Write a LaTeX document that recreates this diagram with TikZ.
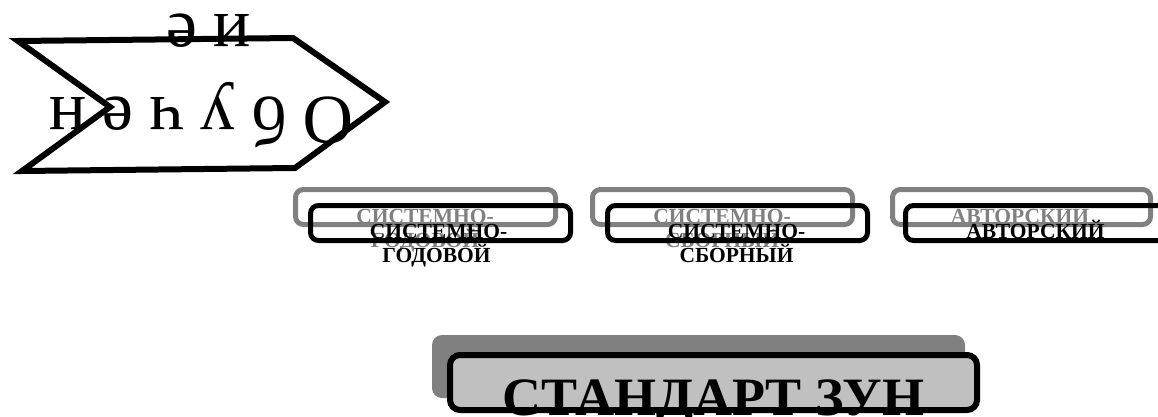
\documentclass[tikz,border=0pt]{standalone}
\usepackage{fontspec}
\setmainfont{Liberation Serif}
\definecolor{shadowgray}{HTML}{808080}
\definecolor{panelgray}{HTML}{C0C0C0}
\begin{document}
\begin{tikzpicture}[x=1pt,y=-1pt,
  shadowbox/.style={draw=shadowgray,line width=5pt,rounded corners=8pt},
  mainbox/.style={draw=black,line width=5pt,rounded corners=8pt},
  smalltxt/.style={font=\bfseries\fontsize{21.5}{24}\selectfont,inner sep=0pt,anchor=base},
  shadowtxt/.style={smalltxt,text=shadowgray},
  maintxt/.style={smalltxt,text=black},
  bigtxt/.style={font=\fontsize{70}{84}\selectfont,inner sep=0pt,anchor=base,rotate=180},
  titletxt/.style={font=\bfseries\fontsize{54}{64}\selectfont,inner sep=0pt,anchor=base}
]
\useasboundingbox (0,0) rectangle (1158,417);
\clip (0,0) rectangle (1158,417);

% chevron
\draw[line width=6pt] (18,41) -- (293,38) -- (385,102) -- (295,168) -- (22,171) -- (110,107) -- cycle;
\node[bigtxt] (ob) at (201.5,98) {О\kern16ptб\kern16ptу\kern16ptч\kern16ptе\kern16ptн};
\node[bigtxt] (ie) at (208.5,15) {и\kern16ptе};

% box 1
\draw[shadowbox] (295.5,189.5) rectangle (555.5,224.5);
\node[shadowtxt] (g1a) at (425,223) {СИСТЕМНО-};
\node[shadowtxt] (g1b) at (425,247) {ГОДОВОЙ};
\draw[mainbox] (310.5,205.5) rectangle (570.5,240.5);
\node[maintxt] (b1a) at (438.5,238) {СИСТЕМНО-};
\node[maintxt] (b1b) at (436.5,262) {ГОДОВОЙ};

% box 2
\draw[shadowbox] (592.5,189.5) rectangle (852.5,224.5);
\node[shadowtxt] (g2a) at (722,223) {СИСТЕМНО-};
\node[shadowtxt] (g2b) at (722,247) {СБОРНЫЙ};
\draw[mainbox] (607.5,205.5) rectangle (867.5,240.5);
\node[maintxt] (b2a) at (736.5,238) {СИСТЕМНО-};
\node[maintxt] (b2b) at (736.5,262) {СБОРНЫЙ};

% box 3
\draw[shadowbox] (892.5,189.5) rectangle (1150.5,224.5);
\node[shadowtxt] (g3a) at (1020,223) {АВТОРСКИЙ};
\draw[mainbox] (905.5,205.5) rectangle (1172,240.5);
\node[maintxt] (b3a) at (1035.5,238) {АВТОРСКИЙ};

% bottom panel
\fill[shadowgray,rounded corners=10pt] (432,335) rectangle (965,398);
\node[titletxt] (st2) at (713.5,453) {СТАНДАРТ ЗУН};
\draw[line width=6pt,fill=panelgray,rounded corners=10pt] (450,355) rectangle (977,410);
\node[titletxt] (st) at (713.5,415) {СТАНДАРТ ЗУН};
\end{tikzpicture}
\end{document}
